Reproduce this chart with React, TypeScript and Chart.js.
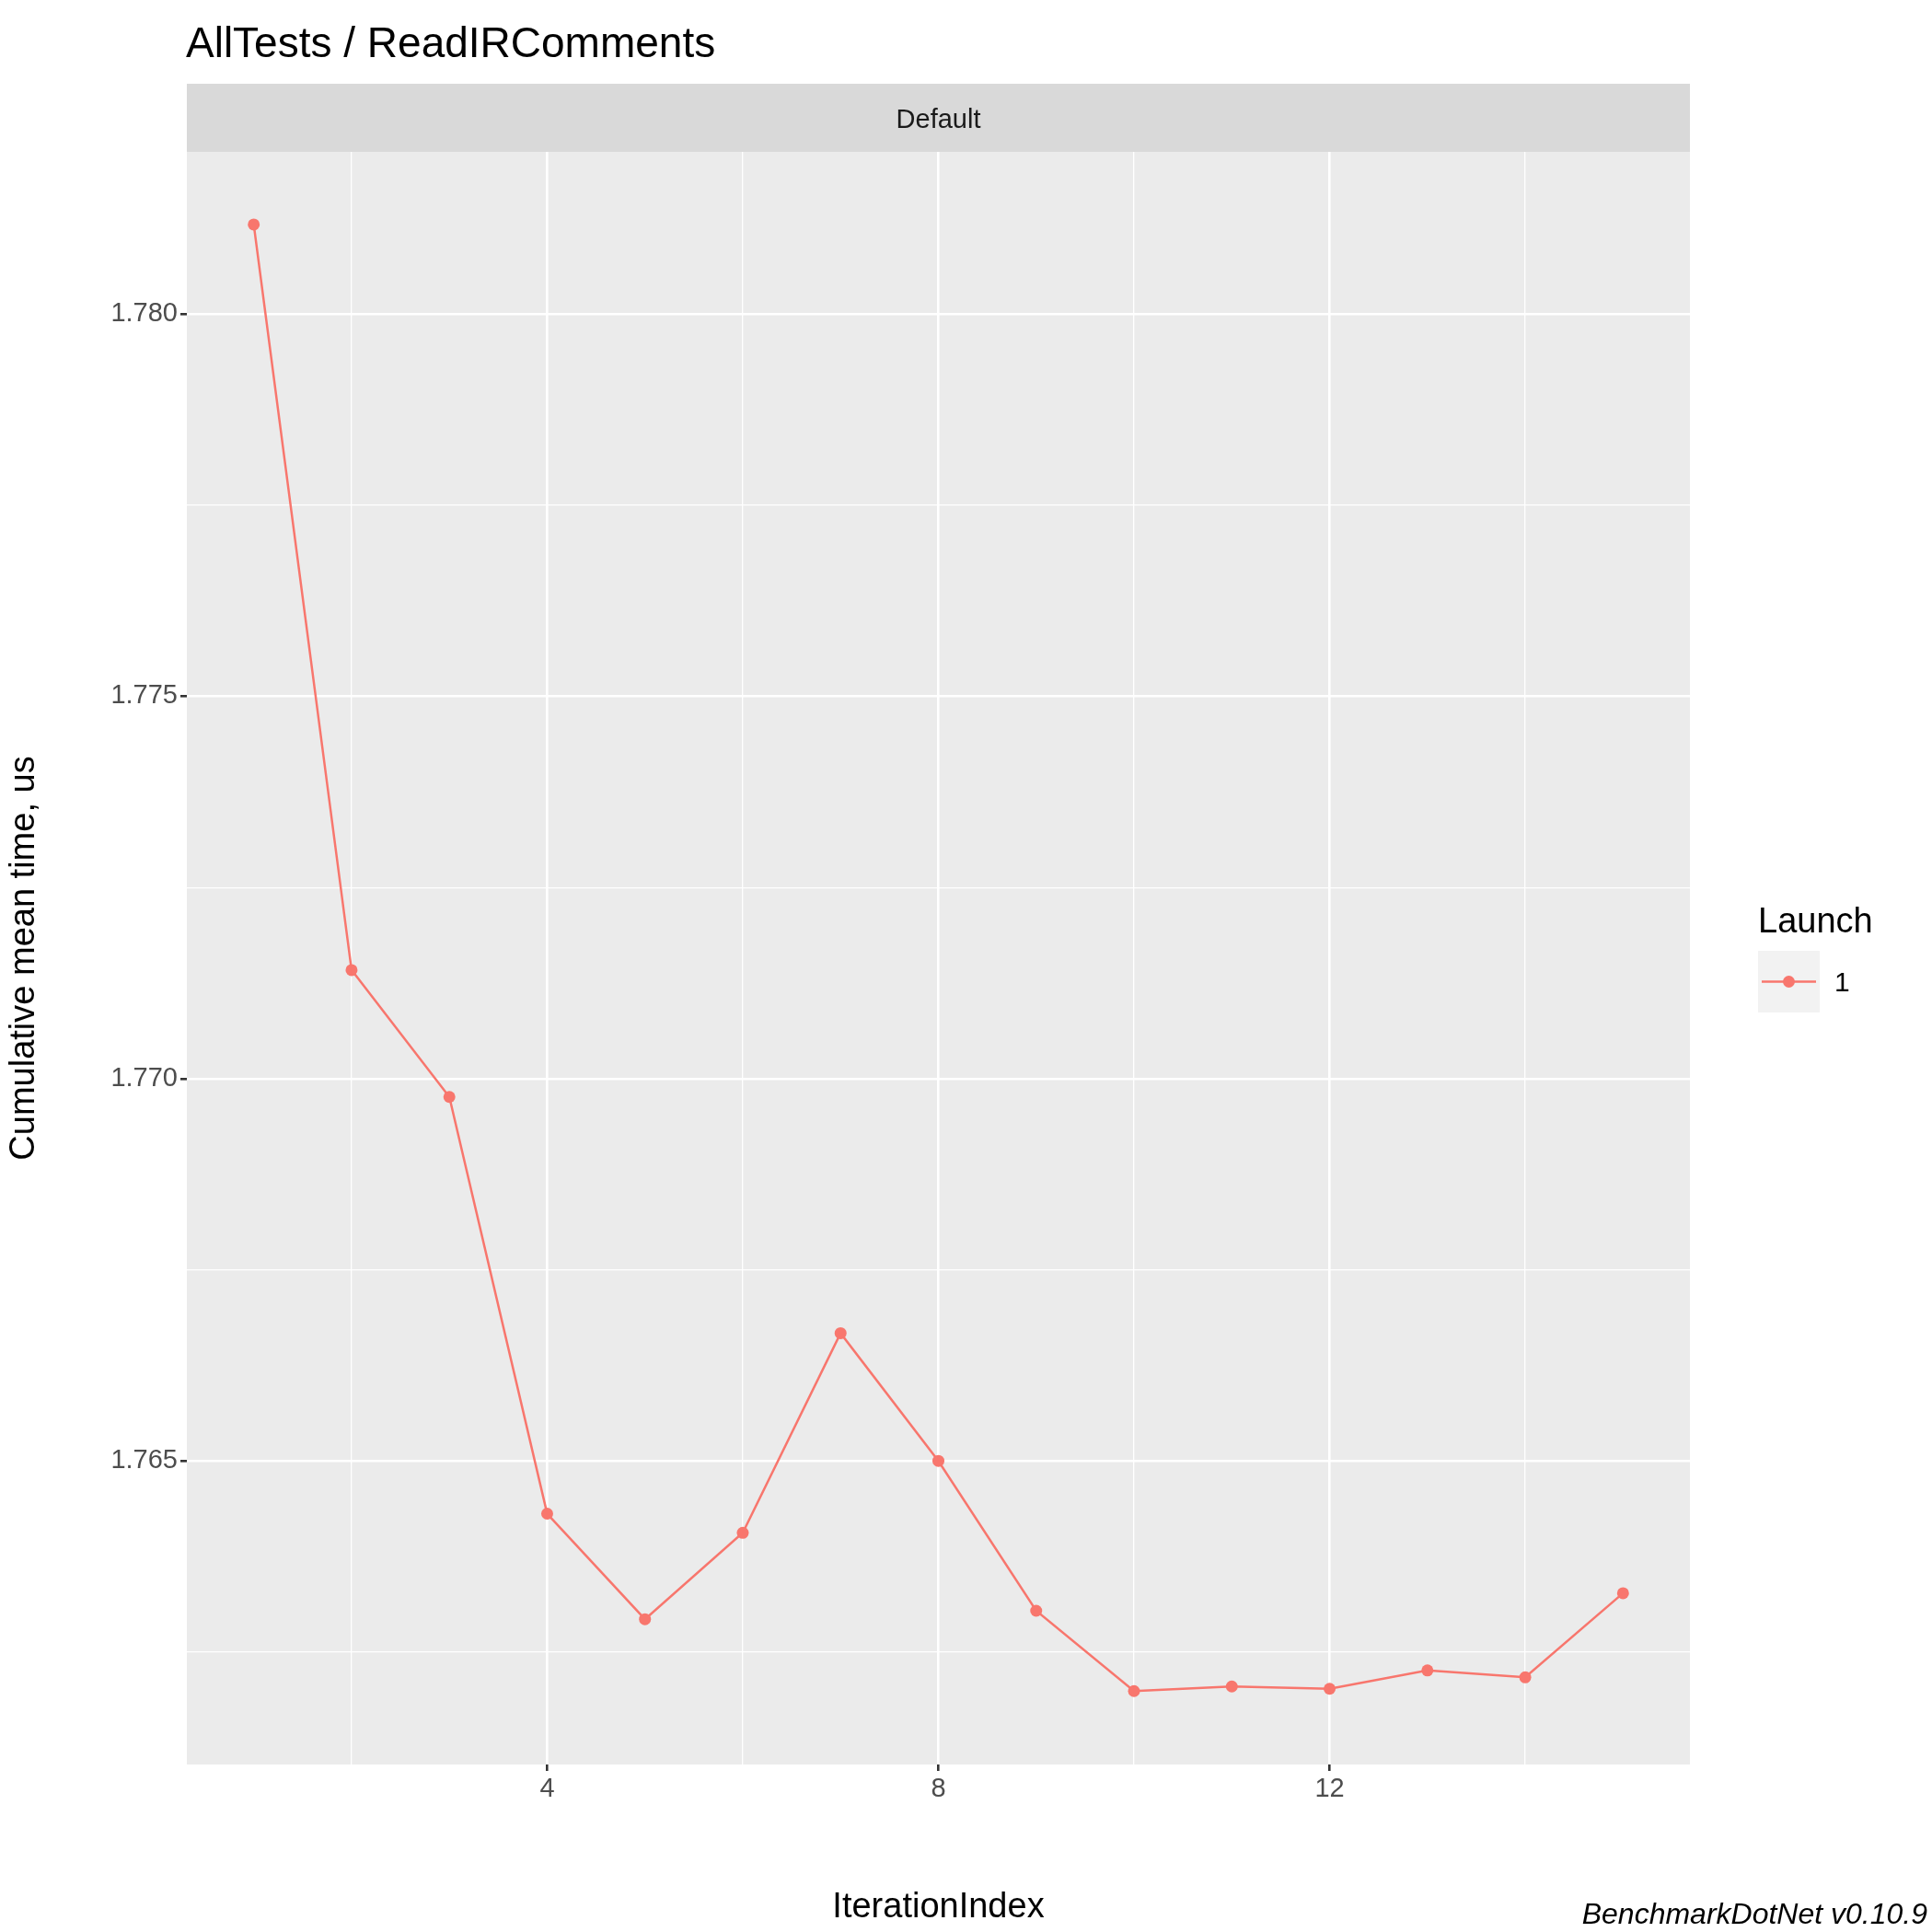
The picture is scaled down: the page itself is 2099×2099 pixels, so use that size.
import React, { useEffect, useRef } from "react";
import Chart from "chart.js/auto";

const iterations = [1, 2, 3, 4, 5, 6, 7, 8, 9, 10, 11, 12, 13, 14, 15];
const meanTimes = [
  1.78117, 1.77142, 1.76976, 1.76431, 1.76293, 1.76406, 1.76667, 1.765,
  1.76304, 1.76199, 1.76205, 1.76202, 1.76226, 1.76217, 1.76327,
];
const xTicks = [2, 4, 6, 8, 10, 12, 14];
const yTicks = [1.7625, 1.765, 1.7675, 1.77, 1.7725, 1.775, 1.7775, 1.78];
const color = "#F8766D";
const font = "Arial, 'Liberation Sans', sans-serif";

const isMajorX = (v: number) => v % 4 === 0;
const isMajorY = (v: number) => Math.abs(Math.round(v * 200) - v * 200) < 1e-6;

function App(): JSX.Element {
  const chartRef = useRef<HTMLCanvasElement | null>(null);
  const chartInstance = useRef<Chart | null>(null);

  useEffect(() => {
    document.body.style.margin = "0";
    if (!chartRef.current) return;
    const ctx = chartRef.current.getContext("2d");
    if (!ctx) return;
    if (chartInstance.current) chartInstance.current.destroy();

    const decor = {
      id: "decor",
      beforeDraw(chart: any) {
        const { ctx: c, chartArea: a } = chart;
        c.save();
        c.fillStyle = "#ebebeb";
        c.fillRect(a.left, a.top, a.right - a.left, a.bottom - a.top);
        c.fillStyle = "#d9d9d9";
        c.fillRect(a.left, 91, a.right - a.left, a.top - 91);
        c.fillStyle = "#1a1a1a";
        c.font = `29px ${font}`;
        c.textAlign = "center";
        c.textBaseline = "middle";
        c.fillText("Default", (a.left + a.right) / 2, 131);
        c.restore();
      },
      afterDraw(chart: any) {
        const c = chart.ctx;
        c.save();
        c.fillStyle = "#000";
        c.textBaseline = "alphabetic";
        c.font = `46px ${font}`;
        c.fillText("AllTests / ReadIRComments", 202, 62);
        c.font = `38px ${font}`;
        c.fillText("Launch", 1910, 1013);
        c.fillStyle = "#f2f2f2";
        c.fillRect(1910, 1033, 67, 67);
        c.strokeStyle = color;
        c.lineWidth = 2.5;
        c.beginPath();
        c.moveTo(1914, 1066.5);
        c.lineTo(1973, 1066.5);
        c.stroke();
        c.fillStyle = color;
        c.beginPath();
        c.arc(1943.5, 1066.5, 6.5, 0, Math.PI * 2);
        c.fill();
        c.fillStyle = "#000";
        c.font = `30px ${font}`;
        c.textBaseline = "middle";
        c.fillText("1", 1993, 1069);
        c.font = `italic 32px ${font}`;
        c.textAlign = "right";
        c.textBaseline = "alphabetic";
        c.fillText("BenchmarkDotNet v0.10.9", 2094, 2090);
        c.restore();
      },
    };

    chartInstance.current = new Chart(ctx, {
      type: "line",
      data: {
        datasets: [
          {
            label: "1",
            data: iterations.map((x, i) => ({ x, y: meanTimes[i] })),
            borderColor: color,
            backgroundColor: color,
            borderWidth: 2.5,
            pointRadius: 6.5,
            pointBorderWidth: 0,
            tension: 0,
          },
        ],
      },
      options: {
        animation: false,
        responsive: false,
        layout: { padding: { top: 165, right: 263, left: 0, bottom: 0 } },
        plugins: { legend: { display: false }, tooltip: { enabled: false } },
        scales: {
          x: {
            type: "linear",
            min: 0.316,
            max: 15.684,
            afterBuildTicks: (s: any) => {
              s.ticks = xTicks.map((v) => ({ value: v }));
            },
            afterFit: (s: any) => {
              s.height = 182;
            },
            border: { display: false },
            grid: {
              color: "#ffffff",
              lineWidth: (c: any) => (isMajorX(c.tick.value) ? 2.6 : 1.3),
              tickColor: (c: any) => (isMajorX(c.tick.value) ? "#333333" : "rgba(0,0,0,0)"),
              tickLength: 7,
            },
            ticks: {
              callback: (v: any) => (isMajorX(Number(v)) ? String(v) : ""),
              color: "#4d4d4d",
              font: { size: 29, family: font },
              maxRotation: 0,
              autoSkip: false,
            },
            title: {
              display: true,
              text: "IterationIndex",
              color: "#000",
              font: { size: 38, family: font },
              padding: { top: 6 },
            },
          },
          y: {
            min: 1.76103,
            max: 1.78212,
            afterBuildTicks: (s: any) => {
              s.ticks = yTicks.map((v) => ({ value: v }));
            },
            afterFit: (s: any) => {
              s.width = 203;
            },
            border: { display: false },
            grid: {
              color: "#ffffff",
              lineWidth: (c: any) => (isMajorY(c.tick.value) ? 2.6 : 1.3),
              tickColor: (c: any) => (isMajorY(c.tick.value) ? "#333333" : "rgba(0,0,0,0)"),
              tickLength: 7,
            },
            ticks: {
              callback: (v: any) => (isMajorY(Number(v)) ? Number(v).toFixed(3) : ""),
              color: "#4d4d4d",
              font: { size: 29, family: font },
              autoSkip: false,
            },
            title: {
              display: true,
              text: "Cumulative mean time, us",
              color: "#000",
              font: { size: 38, family: font },
              padding: { bottom: 12 },
            },
          },
        },
      },
      plugins: [decor],
    } as any);

    return () => {
      chartInstance.current?.destroy();
      chartInstance.current = null;
    };
  }, []);

  return (
    <div style={{ width: 2099, height: 2099, background: "#fff" }}>
      <canvas ref={chartRef} width={2099} height={2099} style={{ width: 2099, height: 2099 }} />
    </div>
  );
}

export default App;
